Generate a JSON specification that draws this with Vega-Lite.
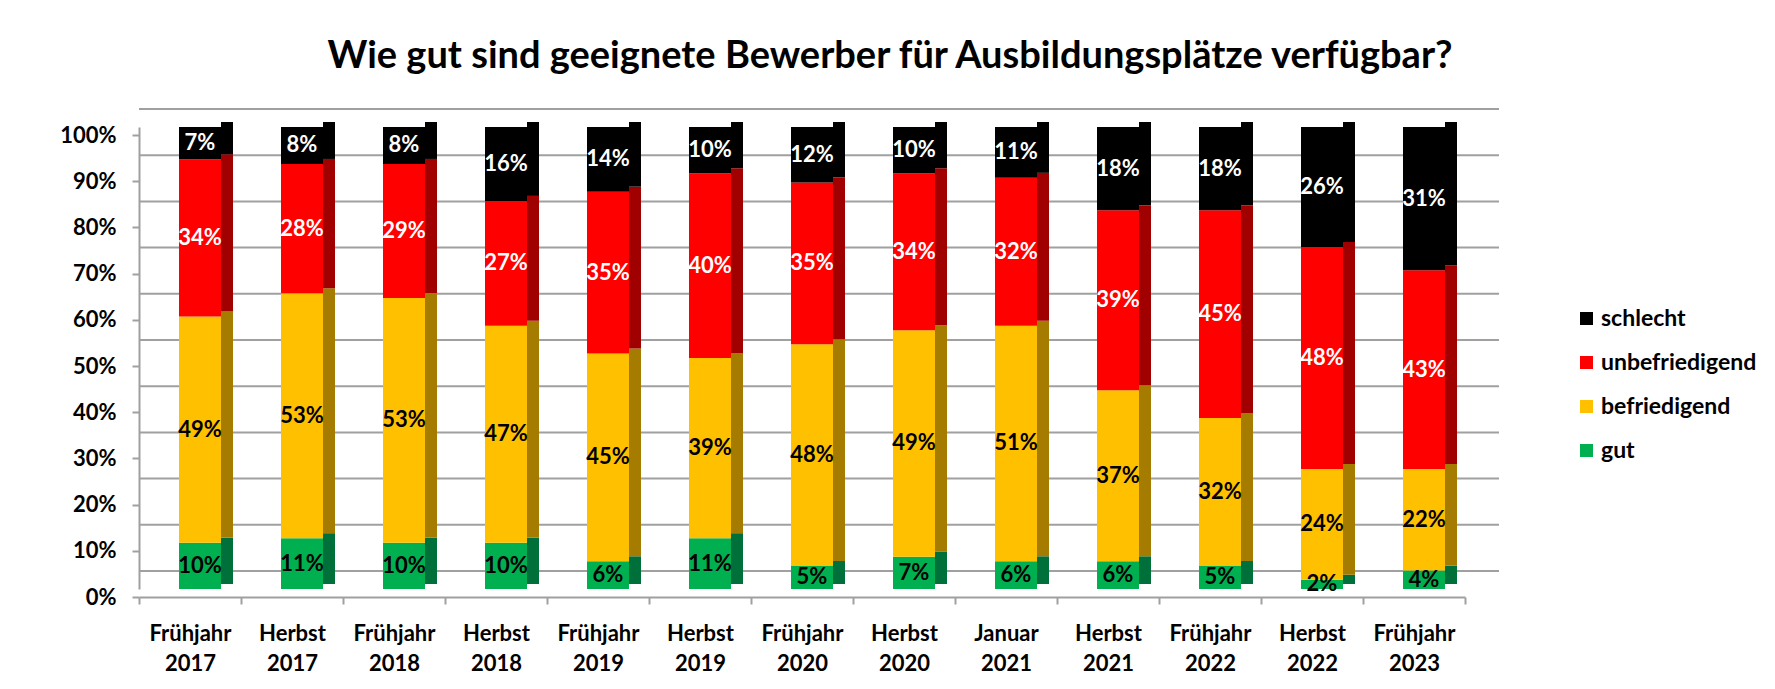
{
  "$schema": "https://vega.github.io/schema/vega-lite/v6.json",
  "autosize": {"type": "none"},
  "padding": {"left": 139, "top": 127, "right": 310, "bottom": 100},
  "width": 1326,
  "height": 462,
  "background": "white",
  "title": {
    "text": "Wie gut sind geeignete Bewerber für Ausbildungsplätze verfügbar?",
    "font": "Lato", "fontSize": 38, "fontWeight": "bold", "color": "black",
    "anchor": "middle", "frame": "group", "dx": 88, "offset": 2, "baseline": "alphabetic"
  },
  "config": {
    "view": {"stroke": null},
    "font": "Lato"
  },
  "datasets": {
    "d": [
      {"period": "Frühjahr 2017", "category": "gut", "value": 10, "order": 1},
      {"period": "Frühjahr 2017", "category": "befriedigend", "value": 49, "order": 2},
      {"period": "Frühjahr 2017", "category": "unbefriedigend", "value": 34, "order": 3},
      {"period": "Frühjahr 2017", "category": "schlecht", "value": 7, "order": 4},
      {"period": "Herbst 2017", "category": "gut", "value": 11, "order": 1},
      {"period": "Herbst 2017", "category": "befriedigend", "value": 53, "order": 2},
      {"period": "Herbst 2017", "category": "unbefriedigend", "value": 28, "order": 3},
      {"period": "Herbst 2017", "category": "schlecht", "value": 8, "order": 4},
      {"period": "Frühjahr 2018", "category": "gut", "value": 10, "order": 1},
      {"period": "Frühjahr 2018", "category": "befriedigend", "value": 53, "order": 2},
      {"period": "Frühjahr 2018", "category": "unbefriedigend", "value": 29, "order": 3},
      {"period": "Frühjahr 2018", "category": "schlecht", "value": 8, "order": 4},
      {"period": "Herbst 2018", "category": "gut", "value": 10, "order": 1},
      {"period": "Herbst 2018", "category": "befriedigend", "value": 47, "order": 2},
      {"period": "Herbst 2018", "category": "unbefriedigend", "value": 27, "order": 3},
      {"period": "Herbst 2018", "category": "schlecht", "value": 16, "order": 4},
      {"period": "Frühjahr 2019", "category": "gut", "value": 6, "order": 1},
      {"period": "Frühjahr 2019", "category": "befriedigend", "value": 45, "order": 2},
      {"period": "Frühjahr 2019", "category": "unbefriedigend", "value": 35, "order": 3},
      {"period": "Frühjahr 2019", "category": "schlecht", "value": 14, "order": 4},
      {"period": "Herbst 2019", "category": "gut", "value": 11, "order": 1},
      {"period": "Herbst 2019", "category": "befriedigend", "value": 39, "order": 2},
      {"period": "Herbst 2019", "category": "unbefriedigend", "value": 40, "order": 3},
      {"period": "Herbst 2019", "category": "schlecht", "value": 10, "order": 4},
      {"period": "Frühjahr 2020", "category": "gut", "value": 5, "order": 1},
      {"period": "Frühjahr 2020", "category": "befriedigend", "value": 48, "order": 2},
      {"period": "Frühjahr 2020", "category": "unbefriedigend", "value": 35, "order": 3},
      {"period": "Frühjahr 2020", "category": "schlecht", "value": 12, "order": 4},
      {"period": "Herbst 2020", "category": "gut", "value": 7, "order": 1},
      {"period": "Herbst 2020", "category": "befriedigend", "value": 49, "order": 2},
      {"period": "Herbst 2020", "category": "unbefriedigend", "value": 34, "order": 3},
      {"period": "Herbst 2020", "category": "schlecht", "value": 10, "order": 4},
      {"period": "Januar 2021", "category": "gut", "value": 6, "order": 1},
      {"period": "Januar 2021", "category": "befriedigend", "value": 51, "order": 2},
      {"period": "Januar 2021", "category": "unbefriedigend", "value": 32, "order": 3},
      {"period": "Januar 2021", "category": "schlecht", "value": 11, "order": 4},
      {"period": "Herbst 2021", "category": "gut", "value": 6, "order": 1},
      {"period": "Herbst 2021", "category": "befriedigend", "value": 37, "order": 2},
      {"period": "Herbst 2021", "category": "unbefriedigend", "value": 39, "order": 3},
      {"period": "Herbst 2021", "category": "schlecht", "value": 18, "order": 4},
      {"period": "Frühjahr 2022", "category": "gut", "value": 5, "order": 1},
      {"period": "Frühjahr 2022", "category": "befriedigend", "value": 32, "order": 2},
      {"period": "Frühjahr 2022", "category": "unbefriedigend", "value": 45, "order": 3},
      {"period": "Frühjahr 2022", "category": "schlecht", "value": 18, "order": 4},
      {"period": "Herbst 2022", "category": "gut", "value": 2, "order": 1},
      {"period": "Herbst 2022", "category": "befriedigend", "value": 24, "order": 2},
      {"period": "Herbst 2022", "category": "unbefriedigend", "value": 48, "order": 3},
      {"period": "Herbst 2022", "category": "schlecht", "value": 26, "order": 4},
      {"period": "Frühjahr 2023", "category": "gut", "value": 4, "order": 1},
      {"period": "Frühjahr 2023", "category": "befriedigend", "value": 22, "order": 2},
      {"period": "Frühjahr 2023", "category": "unbefriedigend", "value": 43, "order": 3},
      {"period": "Frühjahr 2023", "category": "schlecht", "value": 31, "order": 4}
    ]
  },
  "resolve": {"legend": {"color": "independent", "fill": "independent"}},
  "layer": [
    {
      "data": {"values": [{"v": 0}, {"v": 10}, {"v": 20}, {"v": 30}, {"v": 40}, {"v": 50}, {"v": 60}, {"v": 70}, {"v": 80}, {"v": 90}, {"v": 100}]},
      "mark": {"type": "rule", "color": "#A0A0A0", "strokeWidth": 2, "yOffset": -18, "xOffset": 34, "x2Offset": 34},
      "encoding": {
        "y": {"field": "v", "type": "quantitative", "scale": {"domain": [0, 100]},
          "axis": {"title": null, "values": [0, 10, 20, 30, 40, 50, 60, 70, 80, 90, 100], "labelExpr": "datum.value + '%'", "labelFont": "Lato", "labelFontSize": 22, "labelFontWeight": "bold", "labelColor": "black", "labelPadding": 16, "tickOffset": 8, "tickSize": 7, "tickColor": "#A0A0A0", "tickWidth": 2, "domainColor": "#A0A0A0", "domainWidth": 2, "grid": false}}
      }
    },
    {
      "data": {"name": "d"},
      "mark": {"type": "bar", "width": 12, "xOffset": 37, "yOffset": -5},
      "encoding": {
        "x": {"field": "period", "type": "nominal", "sort": null, "scale": {"paddingInner": 0, "paddingOuter": 0},
          "axis": {"title": null, "labelAngle": 0, "labelAlign": "center", "labelExpr": "split(datum.label, ' ')", "labelFont": "Lato", "labelFontSize": 22, "labelFontWeight": "bold", "labelColor": "black", "labelLineHeight": 30, "labelPadding": 19, "labelOffset": 0, "offset": 8, "tickBand": "extent", "tickSize": 7, "tickColor": "#A0A0A0", "tickWidth": 2, "domainColor": "#A0A0A0", "domainWidth": 2, "grid": false}},
        "y": {"field": "value", "type": "quantitative", "stack": "zero"},
        "order": {"field": "order"},
        "fill": {"field": "category", "type": "nominal", "legend": null,
          "scale": {"domain": ["schlecht", "unbefriedigend", "befriedigend", "gut"], "range": ["#000000", "#A00000", "#A67C00", "#00703A"]}}
      }
    },
    {
      "data": {"name": "d"},
      "mark": {"type": "bar", "width": 42, "xOffset": 10},
      "encoding": {
        "x": {"field": "period", "type": "nominal", "sort": null},
        "y": {"field": "value", "type": "quantitative", "stack": "zero"},
        "order": {"field": "order"},
        "color": {"field": "category", "type": "nominal",
          "scale": {"domain": ["schlecht", "unbefriedigend", "befriedigend", "gut"], "range": ["#000000", "#FF0000", "#FFC000", "#00B050"]},
          "legend": {"title": null, "orient": "none", "legendX": 1436, "legendY": 180, "symbolType": "square", "symbolSize": 169, "symbolStrokeWidth": 0, "labelFont": "Lato", "labelFontSize": 23, "labelFontWeight": "bold", "labelColor": "black", "labelOffset": 3, "rowPadding": 20}}
      }
    },
    {
      "data": {"name": "d"},
      "transform": [
        {"stack": "value", "groupby": ["period"], "sort": [{"field": "order"}], "as": ["y0", "y1"]},
        {"calculate": "(datum.y0 + datum.y1) / 2", "as": "mid"},
        {"calculate": "datum.value + '%'", "as": "label"},
        {"filter": "datum.category === 'schlecht' || datum.category === 'unbefriedigend'"}
      ],
      "mark": {"type": "text", "font": "Lato", "fontSize": 22, "fontWeight": "bold", "xOffset": 10, "baseline": "middle", "color": "white"},
      "encoding": {
        "x": {"field": "period", "type": "nominal", "sort": null},
        "y": {"field": "mid", "type": "quantitative"},
        "text": {"field": "label", "type": "nominal"}
      }
    },
    {
      "data": {"name": "d"},
      "transform": [
        {"stack": "value", "groupby": ["period"], "sort": [{"field": "order"}], "as": ["y0", "y1"]},
        {"calculate": "(datum.y0 + datum.y1) / 2", "as": "mid"},
        {"calculate": "datum.value + '%'", "as": "label"},
        {"filter": "datum.category === 'gut' || datum.category === 'befriedigend'"}
      ],
      "mark": {"type": "text", "font": "Lato", "fontSize": 22, "fontWeight": "bold", "xOffset": 10, "baseline": "middle", "color": "black"},
      "encoding": {
        "x": {"field": "period", "type": "nominal", "sort": null},
        "y": {"field": "mid", "type": "quantitative"},
        "text": {"field": "label", "type": "nominal"}
      }
    }
  ]
}
